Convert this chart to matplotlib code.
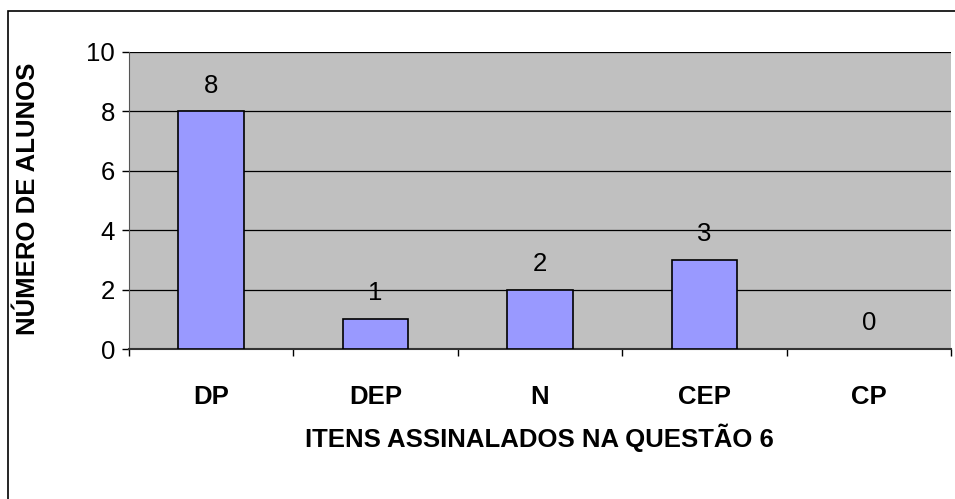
import matplotlib.pyplot as plt
from matplotlib.patches import Rectangle

# Data
categories = ['DP', 'DEP', 'N', 'CEP', 'CP']
counts = [8, 1, 2, 3, 0]
y_ticks = [0, 2, 4, 6, 8, 10]

plt.rcParams['font.family'] = ['Liberation Sans', 'DejaVu Sans']
fs = 18.5

fig = plt.figure(figsize=(9.55, 4.99), dpi=100)
ax = fig.add_axes([0.135, 0.3006, 0.861, 0.5952])
ax.set_facecolor('#C0C0C0')

x = list(range(len(categories)))
widths = [1.2 if v > 0 else 0 for v in counts]
ax.bar(x, counts, width=0.4, color='#9999FF', edgecolor='black', linewidth=widths, zorder=3)

for xi, v in zip(x, counts):
    ax.annotate(str(v), (xi, v), xytext=(0, 10), textcoords='offset points',
                ha='center', va='bottom', fontsize=fs)

ax.set_xlim(-0.5, len(categories) - 0.5)
ax.set_ylim(0, 10)
ax.set_yticks(y_ticks)
ax.tick_params(axis='y', labelsize=fs, length=5, width=1, direction='out', pad=5)
ax.set_xticks([i + 0.5 for i in range(-1, len(categories))])
ax.set_xticklabels([])
ax.set_xticks(x, minor=True)
ax.set_xticklabels(categories, minor=True, fontsize=fs, fontweight='bold')
ax.tick_params(axis='x', which='major', length=5, width=1, direction='out')
ax.tick_params(axis='x', which='minor', length=0, pad=26)

ax.yaxis.grid(True, color='black', linewidth=0.9, zorder=0)
ax.set_axisbelow(True)
for s in ['top', 'right']:
    ax.spines[s].set_visible(False)
ax.spines['left'].set_color('#555555')
ax.spines['bottom'].set_color('#333333')
ax.spines['bottom'].set_linewidth(1.5)

fig.text(0.029, 0.602, 'NÚMERO DE ALUNOS', rotation=90, ha='center', va='center',
         fontsize=fs, fontweight='bold')
fig.text(0.565, 0.122, 'ITENS ASSINALADOS NA QUESTÃO 6', ha='center', va='center',
         fontsize=fs, fontweight='bold')

fig.patches.append(Rectangle((0.0084, -0.1), 2, 1.078, transform=fig.transFigure,
                             fill=False, edgecolor='black', linewidth=1.2))

fig.savefig('out.png', dpi=100)
